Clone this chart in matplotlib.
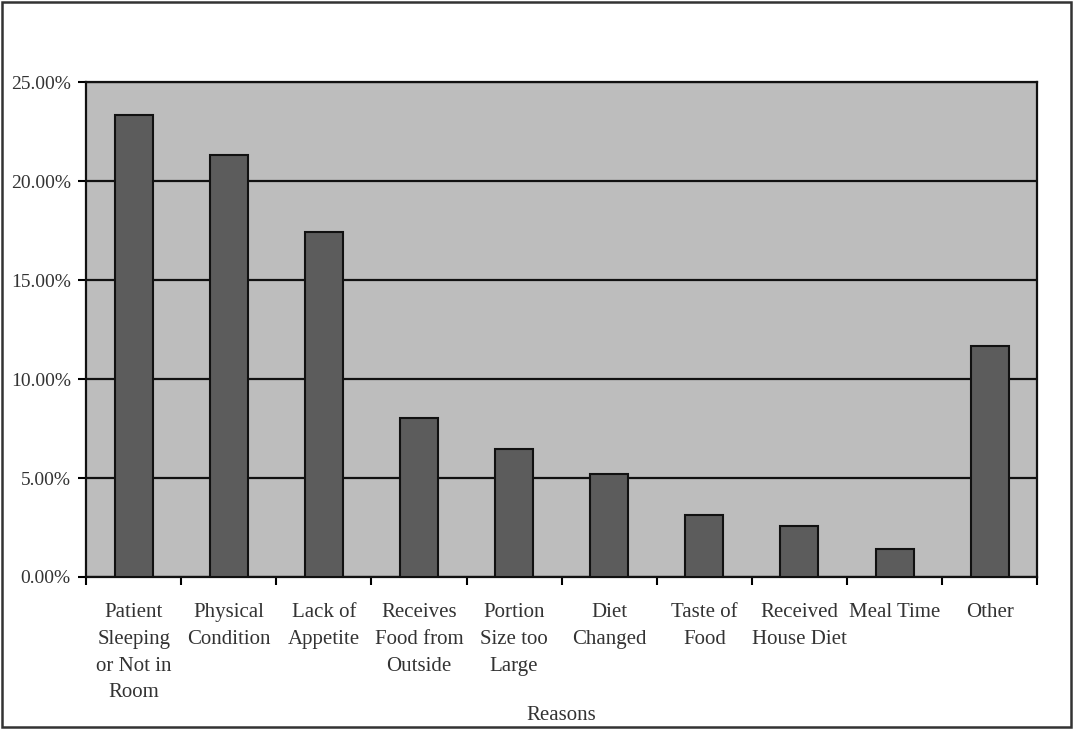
import matplotlib.pyplot as plt
from matplotlib.patches import Rectangle
import numpy as np

reasons = ["Patient\nSleeping\nor Not in\nRoom", "Physical\nCondition", "Lack of\nAppetite",
           "Receives\nFood from\nOutside", "Portion\nSize too\nLarge", "Diet\nChanged",
           "Taste of\nFood", "Received\nHouse Diet", "Meal Time", "Other"]
percent = [23.35, 21.3, 17.45, 8.05, 6.45, 5.2, 3.15, 2.6, 1.4, 11.65]
yticks = [0, 5, 10, 15, 20, 25]

plt.rcParams['font.family'] = ['Liberation Serif', 'DejaVu Serif']

fig = plt.figure(figsize=(10.76, 7.3), dpi=100)
ax = fig.add_axes([0.080, 0.2096, 0.884, 0.678])

x = np.arange(len(reasons))
ax.set_facecolor('#bdbdbd')
ax.set_axisbelow(True)
ax.yaxis.grid(True, color='#111111', linewidth=1.6)
ax.bar(x, percent, width=0.4, color='#5c5c5c', edgecolor='#111111', linewidth=1.5, zorder=3)

ax.set_xlim(-0.5, len(reasons) - 0.5)
ax.set_ylim(0, 25)
ax.set_yticks(yticks)
ax.set_yticklabels([f"{v:.2f}%" for v in yticks], fontsize=14, color='#333333')

# category ticks sit at the boundaries, labels centred under the bars
ax.set_xticks(np.arange(len(reasons) + 1) - 0.5)
ax.set_xticklabels([])
ax.set_xticks(x, minor=True)
ax.set_xticklabels(reasons, minor=True, fontsize=15, color='#333333', linespacing=1.55, va='top')
ax.tick_params(axis='x', which='minor', length=0, pad=19)
ax.tick_params(axis='x', which='major', length=6, width=1.5, direction='out')
ax.tick_params(axis='y', length=6, width=1.5, direction='out', pad=5)

for s in ax.spines.values():
    s.set_linewidth(1.6)
    s.set_color('#111111')

fig.text(0.522, 0.0205, "Reasons", ha='center', va='center', fontsize=15, color='#333333')

# outer frame of the figure
fig.patches.append(Rectangle((0.002, 0.004), 0.993, 0.993, transform=fig.transFigure,
                             fill=False, edgecolor='#333333', linewidth=1.8))

fig.savefig('out.png', dpi=100)
